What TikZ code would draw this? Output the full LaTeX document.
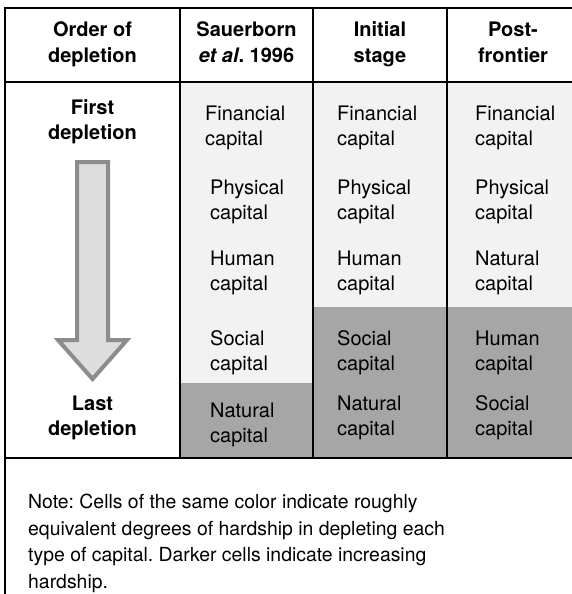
\documentclass[tikz,border=0pt]{standalone}
\usepackage{fontspec}
\setmainfont{TeX Gyre Heros}
\frenchspacing
\definecolor{lightcell}{HTML}{F2F2F2}
\definecolor{darkcell}{HTML}{A6A6A6}
\definecolor{arrowfill}{HTML}{DDDDDD}
\definecolor{arrowedge}{HTML}{8C8C8C}
\tikzset{
  rule/.style={line width=2pt, black},
  cell/.style={anchor=base west, align=left, inner sep=0pt, font=\fontsize{20}{25.5}\selectfont},
  head/.style={anchor=base, align=center, inner sep=0pt, font=\fontsize{20}{25.5}\selectfont\bfseries},
  note/.style={anchor=base west, align=left, inner sep=0pt, font=\fontsize{19.4}{26.5}\selectfont},
}
\begin{document}
\begin{tikzpicture}[x=1pt, y=-1pt]
\useasboundingbox (0,0) rectangle (572,594);
\fill[white] (0,0) rectangle (572,594);

% shaded cells
\fill[lightcell] (180,82) rectangle (313,383);
\fill[darkcell]  (180,383) rectangle (313,458);
\fill[lightcell] (313,82) rectangle (572,307);
\fill[darkcell]  (313,307) rectangle (572,458);

% table rules
\draw[rule] (5,594) -- (5,8) -- (572,8);
\draw[rule] (5,82) -- (572,82);
\draw[rule] (5,458) -- (572,458);
\foreach \x in {180,313,447} \draw[rule] (\x,8) -- (\x,458);

% header row (anchors sit on the last line's baseline)
\node[head] (h1) at (92.5,62.5) {Order of\\depletion};
\node[head] (h2) at (246.5,62.5) {Sauerborn\\\textit{et al}. 1996};
\node[head] (h3) at (380,62.5) {Initial\\stage};
\node[head] (h4) at (513,62.5) {Post-\\frontier};

% order column
\node[head] (first) at (92.5,139.5) {First\\depletion};
\node[head] (last) at (92.5,435.5) {Last\\depletion};
\draw[line width=4pt, arrowedge, fill=arrowfill, line join=miter]
  (77,162) -- (108,162) -- (108,340) -- (127,340) -- (92.5,379)
  -- (58,340) -- (77,340) -- cycle;

% Sauerborn et al. 1996
\node[cell] (s1) at (205,145.5) {Financial\\capital};
\node[cell] (s2) at (210,219.5) {Physical\\capital};
\node[cell] (s3) at (210,290.5) {Human\\capital};
\node[cell] (s4) at (210,370.5) {Social\\capital};
\node[cell] (s5) at (210,442.5) {Natural\\capital};

% initial stage
\node[cell] (i1) at (337,145.5) {Financial\\capital};
\node[cell] (i2) at (337,219.5) {Physical\\capital};
\node[cell] (i3) at (337,290.5) {Human\\capital};
\node[cell] (i4) at (337,370.5) {Social\\capital};
\node[cell] (i5) at (337,435.5) {Natural\\capital};

% post-frontier
\node[cell] (p1) at (475,145.5) {Financial\\capital};
\node[cell] (p2) at (475,219.5) {Physical\\capital};
\node[cell] (p3) at (475,290.5) {Natural\\capital};
\node[cell] (p4) at (475,370.5) {Human\\capital};
\node[cell] (p5) at (475,435.5) {Social\\capital};

% note
\node[note] (nt) at (28,588) {Note: Cells of the same color indicate roughly\\
equivalent degrees of hardship in depleting each\\
type of capital. Darker cells indicate increasing\\
hardship.};
\end{tikzpicture}
\end{document}
